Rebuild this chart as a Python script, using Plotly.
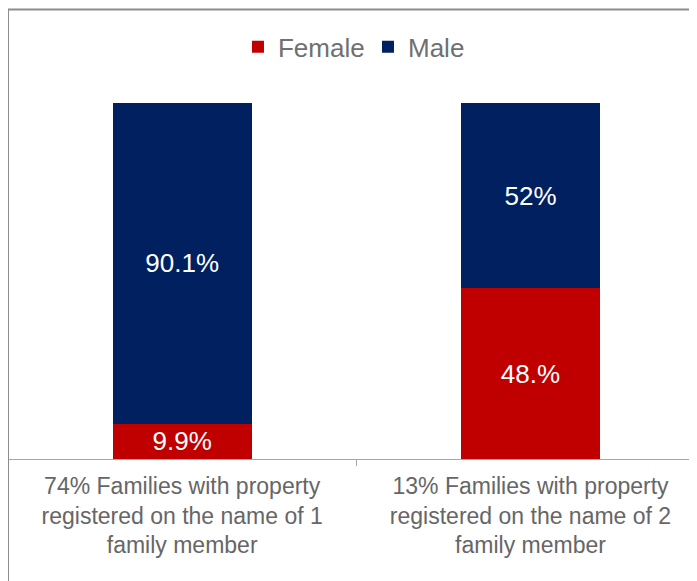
import plotly.graph_objects as go

categories = [
    "74% Families with property<br>registered on the name of 1<br>family member",
    "13% Families with property<br>registered on the name of 2<br>family member",
]
female = [9.9, 48.0]
male = [90.1, 52.0]
female_labels = ["9.9%", "48.%"]
male_labels = ["90.1%", "52%"]

FONT = "Liberation Sans, Arial, sans-serif"

fig = go.Figure()
fig.add_trace(go.Bar(
    name="Female", x=categories, y=female, text=female_labels,
    marker=dict(color="#C00000", line=dict(width=0)),
    textposition="inside", insidetextanchor="middle", constraintext="none",
    textfont=dict(color="white", size=26, family=FONT),
    width=0.4,
))
fig.add_trace(go.Bar(
    name="Male", x=categories, y=male, text=male_labels,
    marker=dict(color="#002060", line=dict(width=0)),
    textposition="inside", insidetextanchor="middle", constraintext="none",
    textfont=dict(color="white", size=26, family=FONT),
    width=0.4,
))

# page body adds an 8px offset; margins compensate
fig.update_layout(
    barmode="stack",
    width=697, height=581,
    margin=dict(l=0, r=8, t=95, b=130, pad=0, autoexpand=False),
    paper_bgcolor="white", plot_bgcolor="white",
    font=dict(family=FONT),
    showlegend=True,
    legend=dict(
        orientation="h", traceorder="normal",
        x=0.3338, xanchor="left",
        y=1.158, yanchor="middle",
        font=dict(size=26, color="#707070", family=FONT),
        entrywidth=85, entrywidthmode="pixels",
        bgcolor="rgba(0,0,0,0)",
    ),
    xaxis=dict(
        range=[-0.5, 1.478], showgrid=False, zeroline=False,
        showline=True, linecolor="#a6a6a6", linewidth=1,
        ticks="outside", tickson="boundaries", ticklen=6, tickcolor="#a6a6a6",
        tickfont=dict(size=23, color="#666666", family=FONT),
        ticklabelstandoff=6,
        fixedrange=True,
    ),
    yaxis=dict(
        range=[0, 100], showgrid=False, zeroline=False, showline=False,
        showticklabels=False, ticks="",
    ),
    shapes=[
        dict(type="line", xref="paper", yref="paper",
             x0=0, x1=0,
             y0=(451 - 1.5) / 356, y1=-0.5,
             line=dict(color="#8c8c8c", width=2)),
        dict(type="line", xref="paper", yref="paper",
             x0=-0.0015, x1=1.05,
             y0=(451 - 1.5) / 356, y1=(451 - 1.5) / 356,
             line=dict(color="#8c8c8c", width=2)),
    ],
)

fig.write_html("out.html")
